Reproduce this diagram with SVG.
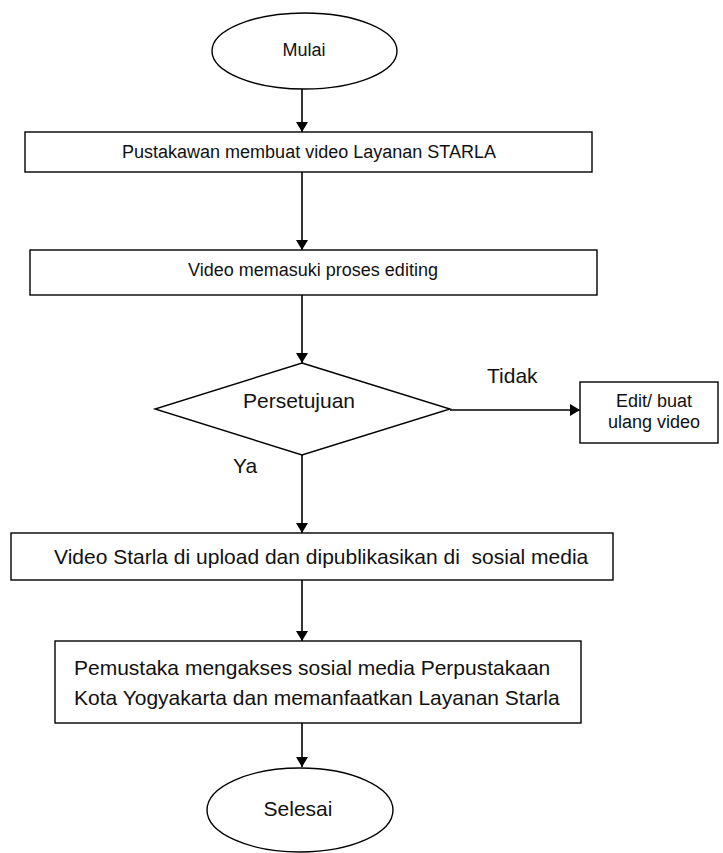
<svg xmlns="http://www.w3.org/2000/svg" width="723" height="853" viewBox="0 0 723 853">
<style>
.s{fill:#fff;stroke:#000;stroke-width:1.4}
.c{fill:none;stroke:#000;stroke-width:1.6}
.t{font-family:"Liberation Sans",Arial,sans-serif;fill:#111}
.sm{font-size:18px}
.lg{font-size:21px}
</style>
<defs>
<marker id="ah" markerWidth="10" markerHeight="12" refX="10" refY="6" orient="auto" markerUnits="userSpaceOnUse">
<path d="M0,0 L10,6 L0,12 Z" fill="#000"/>
</marker>
</defs>
<rect width="723" height="853" fill="#fff"/>
<g id="connectors">
<line class="c" x1="302" y1="89" x2="302" y2="132" marker-end="url(#ah)"/>
<line class="c" x1="302" y1="172" x2="302" y2="250" marker-end="url(#ah)"/>
<line class="c" x1="302" y1="295" x2="302" y2="363" marker-end="url(#ah)"/>
<line class="c" x1="450" y1="410" x2="580" y2="410" marker-end="url(#ah)"/>
<line class="c" x1="302" y1="455" x2="302" y2="533" marker-end="url(#ah)"/>
<line class="c" x1="302" y1="580" x2="302" y2="641" marker-end="url(#ah)"/>
<line class="c" x1="302" y1="723" x2="302" y2="767" marker-end="url(#ah)"/>
<text class="t lg" x="487" y="383">Tidak</text>
<text class="t lg" x="233" y="473">Ya</text>
</g>
<g id="mulai">
<ellipse class="s" cx="304.5" cy="51" rx="92.5" ry="38"/>
<text class="t sm" x="304" y="56" text-anchor="middle">Mulai</text>
</g>
<g id="buat">
<rect class="s" x="25" y="132" width="567" height="40"/>
<text class="t sm" x="309" y="158" text-anchor="middle">Pustakawan membuat video Layanan STARLA</text>
</g>
<g id="editing">
<rect class="s" x="30" y="250" width="567" height="45"/>
<text class="t sm" x="313" y="276" text-anchor="middle">Video memasuki proses editing</text>
</g>
<g id="persetujuan">
<polygon class="s" points="302,363 450,409 302,455 155,409"/>
<text class="t lg" x="299" y="408" text-anchor="middle">Persetujuan</text>
</g>
<g id="editulang">
<rect class="s" x="580" y="382" width="138" height="61"/>
<text class="t sm" x="654" y="407" text-anchor="middle">Edit/ buat</text>
<text class="t sm" x="654" y="428" text-anchor="middle">ulang video</text>
</g>
<g id="upload">
<rect class="s" x="11" y="533" width="602" height="47"/>
<text class="t lg" x="54" y="564" xml:space="preserve">Video Starla di upload dan dipublikasikan di  sosial media</text>
</g>
<g id="akses">
<rect class="s" x="55" y="641" width="526" height="82"/>
<text class="t lg" x="74" y="675">Pemustaka mengakses sosial media Perpustakaan</text>
<text class="t lg" x="74" y="705">Kota Yogyakarta dan memanfaatkan Layanan Starla</text>
</g>
<g id="selesai">
<ellipse class="s" cx="300" cy="810" rx="93" ry="42"/>
<text class="t lg" x="298" y="816" text-anchor="middle">Selesai</text>
</g>
</svg>
